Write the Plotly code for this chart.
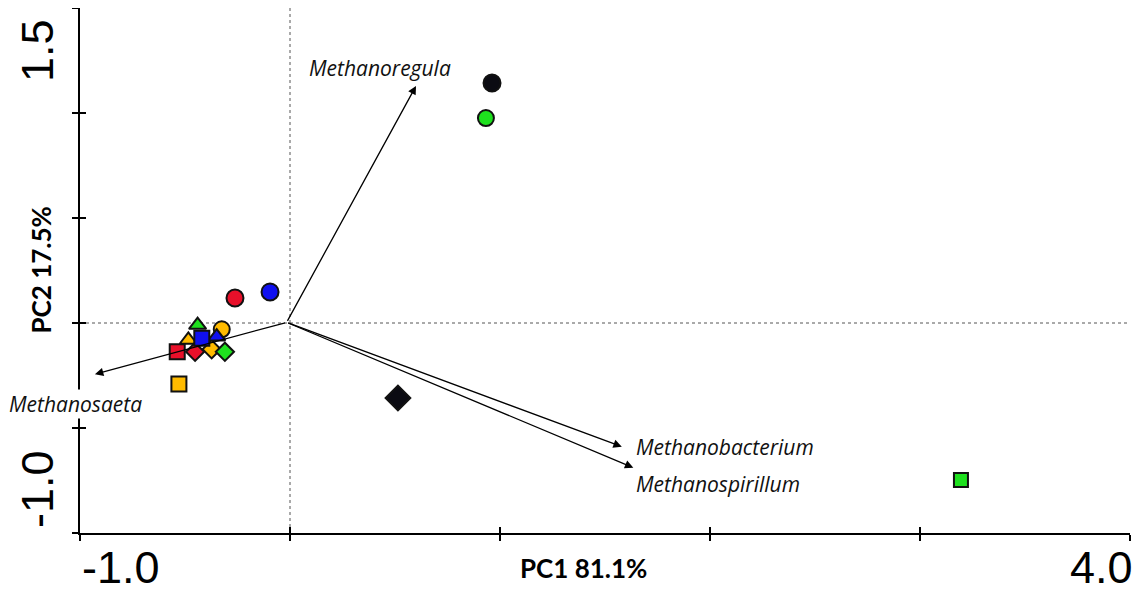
import plotly.graph_objects as go

# ---- sample scores (PC1, PC2) ----
pc1_scores = [0.962, 0.933, -0.262, -0.095, 0.514, 3.195, -0.529,
              -0.484, -0.537, -0.452, -0.373, -0.310, -0.440, -0.325, -0.349, -0.420]
pc2_scores = [1.143, 0.976, 0.119, 0.148, -0.357, -0.748, -0.290,
              -0.081, -0.137, -0.137, -0.125, -0.137, -0.010, -0.030, -0.065, -0.073]
marker_colors = ["#0b0b12", "#1ee01e", "#e8102a", "#1010f0", "#0b0b12", "#1ee01e", "#ffbb00",
                 "#ffbb00", "#e8102a", "#e8102a", "#ffbb00", "#1ee01e", "#1ee01e", "#ffbb00", "#1010f0", "#1010f0"]
marker_symbols = ["circle", "circle", "circle", "circle", "diamond", "square", "square",
                  "triangle-up", "square", "diamond", "diamond", "diamond", "triangle-up", "circle", "triangle-up", "square"]
marker_sizes = [17, 16, 17, 17, 19, 14, 15,
                15, 15, 14, 14, 14, 15, 16, 15, 15]

# ---- variable loadings (arrow tips) ----
genera = ["Methanoregula", "Methanobacterium", "Methanospirillum", "Methanosaeta"]
load_pc1 = [0.600, 1.580, 1.635, -0.929]
load_pc2 = [1.129, -0.589, -0.689, -0.244]
origin = (-0.016, 0.003)

x_tick_vals = [-1, 0, 1, 2, 3, 4]
y_tick_vals = [-1.0, -0.5, 0.0, 0.5, 1.0, 1.5]
x_range = [-1.0, 4.0]
y_range = [-1.0, 1.5]
x_end_labels = ["-1.0", "4.0"]
y_end_labels = ["-1.0", "1.5"]
x_title = "PC1 81.1%"
y_title = "PC2 17.5%"

fig = go.Figure()
fig.add_trace(go.Scatter(
    x=pc1_scores, y=pc2_scores, mode="markers",
    marker=dict(color=marker_colors, symbol=marker_symbols, size=marker_sizes,
                opacity=1, line=dict(color="#111111", width=2)),
    showlegend=False, hoverinfo="skip"))
# helper empty trace so the overlay axes (inner tick halves) are drawn
fig.add_trace(go.Scatter(x=[], y=[], xaxis="x2", yaxis="y2", showlegend=False))

# dotted zero lines
fig.add_shape(type="line", xref="x", yref="y", x0=0, x1=0, y0=y_range[0], y1=y_range[1],
              line=dict(color="#555555", width=1, dash="dot"), layer="below")
fig.add_shape(type="line", xref="x", yref="y", x0=x_range[0], x1=x_range[1], y0=0, y1=0,
              line=dict(color="#555555", width=1, dash="dot"), layer="below")

# arrows
for gx, gy in zip(load_pc1, load_pc2):
    fig.add_annotation(x=gx, y=gy, ax=origin[0], ay=origin[1], xref="x", yref="y",
                       axref="x", ayref="y", text="", showarrow=True,
                       arrowhead=2, arrowsize=1.3, arrowwidth=1.3, arrowcolor="black",
                       standoff=0, startstandoff=0)

label_font = dict(family="Open Sans", size=21, color="#111111")
label_pos = {
    "Methanoregula": dict(xanchor="center", xshift=-36, yshift=18),
    "Methanobacterium": dict(xanchor="left", xshift=13, yshift=0),
    "Methanospirillum": dict(xanchor="left", xshift=2, yshift=-16),
    "Methanosaeta": dict(xanchor="left", xshift=-87, yshift=-30),
}
for name, gx, gy in zip(genera, load_pc1, load_pc2):
    p = label_pos[name]
    fig.add_annotation(x=gx, y=gy, xref="x", yref="y", text="<i>%s</i>" % name,
                       showarrow=False, font=label_font, xanchor=p["xanchor"],
                       yanchor="middle", xshift=p["xshift"], yshift=p["yshift"],
                       bgcolor="white" if name == "Methanosaeta" else None, borderpad=0)

tick_font = dict(family="Liberation Sans", size=45, color="black")
fig.add_annotation(x=x_tick_vals[0], y=0, xref="x", yref="paper", text=x_end_labels[0],
                   showarrow=False, font=tick_font, xanchor="left", yanchor="middle",
                   xshift=0, yshift=-34)
fig.add_annotation(x=x_tick_vals[-1], y=0, xref="x", yref="paper", text=x_end_labels[1],
                   showarrow=False, font=tick_font, xanchor="right", yanchor="middle",
                   xshift=5, yshift=-34)
fig.add_annotation(x=0, y=y_tick_vals[-1], xref="paper", yref="y", text=y_end_labels[1],
                   showarrow=False, font=tick_font, textangle=-90, xanchor="center",
                   yanchor="middle", xshift=-43, yshift=-43)
fig.add_annotation(x=0, y=y_tick_vals[0], xref="paper", yref="y", text=y_end_labels[0],
                   showarrow=False, font=tick_font, textangle=-90, xanchor="center",
                   yanchor="middle", xshift=-43, yshift=44)

title_font = dict(family="Lato", size=26, color="black")
fig.add_annotation(x=0.5, y=0, xref="paper", yref="paper", text="<b>%s</b>" % x_title,
                   showarrow=False, font=title_font, xanchor="center", yanchor="middle",
                   xshift=-22, yshift=-35)
fig.add_annotation(x=0, y=0.5, xref="paper", yref="paper", text="<b>%s</b>" % y_title,
                   showarrow=False, font=title_font, textangle=-90, xanchor="center",
                   yanchor="middle", xshift=-40, yshift=0)

axis_common = dict(showgrid=False, zeroline=False, showticklabels=False,
                   ticklen=6, tickwidth=1.5, tickcolor="black")
# the page body adds an 8px offset; the figure size and margins account for it
fig.update_layout(
    width=1132, height=585,
    margin=dict(l=72, r=10, t=0, b=60),
    paper_bgcolor="white", plot_bgcolor="white",
    xaxis=dict(range=x_range, tickvals=x_tick_vals, ticks="outside", showline=True,
               linecolor="black", linewidth=2, **axis_common),
    yaxis=dict(range=y_range, tickvals=y_tick_vals, ticks="outside", showline=True,
               linecolor="black", linewidth=2, **axis_common),
    xaxis2=dict(range=x_range, tickvals=x_tick_vals, ticks="inside", overlaying="x",
                anchor="y2", side="bottom", showline=False, **axis_common),
    yaxis2=dict(range=y_range, tickvals=y_tick_vals, ticks="inside", overlaying="y",
                anchor="x2", side="left", showline=False, **axis_common),
)

fig.write_html("out.html")
